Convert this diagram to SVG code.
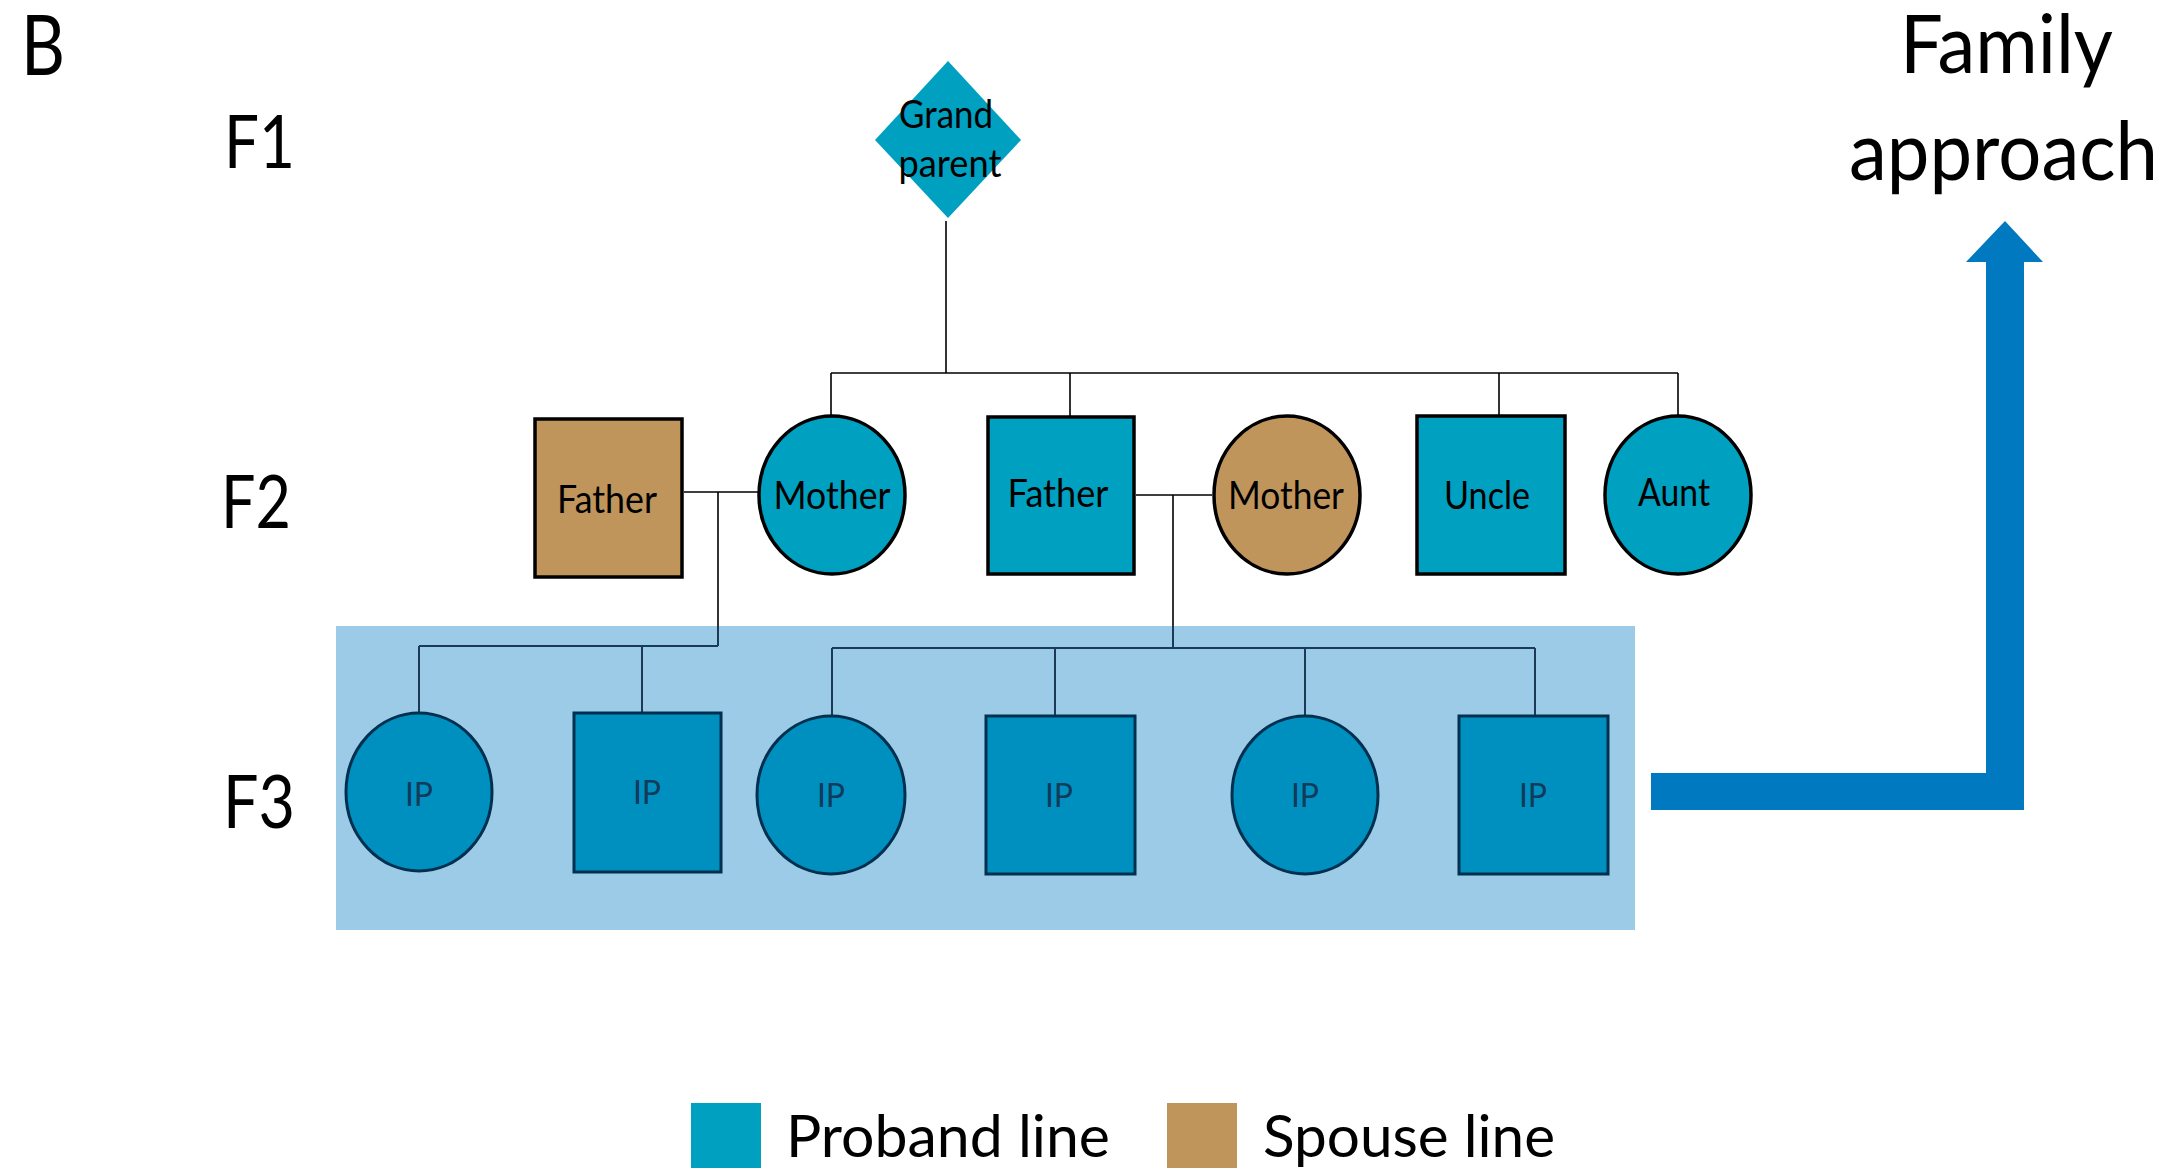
<svg xmlns="http://www.w3.org/2000/svg" width="2181" height="1171" viewBox="0 0 2181 1171">
  <style>
    text { font-family: Lato, "Open Sans", "Liberation Sans", sans-serif; fill: #000; }
    .lbl { font-size: 38px; text-anchor: middle; }
    .gen { font-size: 74px; }
    .ip { font-size: 32px; text-anchor: middle; fill: #123a5a; }
    .proband { fill: #00a0c0; stroke: #000; stroke-width: 3.5; }
    .spouse { fill: #c0955c; stroke: #000; stroke-width: 3.5; }
    .child { fill: #0090bf; stroke: #00304f; stroke-width: 3; }
    .link { stroke: #000; stroke-width: 1.6; fill: none; }
    .link-in { stroke: #1b3a56; stroke-width: 2; fill: none; }
  </style>

  <!-- panel letter and generation labels -->
  <text x="21" y="75" style="font-size:84px" textLength="44" lengthAdjust="spacingAndGlyphs">B</text>
  <text class="gen" x="224" y="168" textLength="71" lengthAdjust="spacingAndGlyphs">F1</text>
  <text class="gen" x="221" y="528" textLength="70" lengthAdjust="spacingAndGlyphs">F2</text>
  <text class="gen" x="223" y="828" textLength="72" lengthAdjust="spacingAndGlyphs">F3</text>

  <!-- index-patient band -->
  <rect id="ip-band" x="336" y="626" width="1299" height="304" fill="#9bcbe7"/>

  <!-- connectors -->
  <g id="connectors">
    <path class="link" d="M946,221 V373 M831,373 H1678 M831,373 V416 M1070,373 V417 M1499,373 V416 M1678,373 V416"/>
    <path class="link" d="M684,492 H758 M718,492 V626 M1136,495 H1212 M1173,495 V626"/>
    <path class="link-in" d="M718,626 V646 M419,646 H718 M419,646 V713 M642,646 V713"/>
    <path class="link-in" d="M1173,626 V648 M832,648 H1535 M832,648 V716 M1055,648 V716 M1305,648 V716 M1535,648 V716"/>
  </g>

  <!-- F1 -->
  <g id="grandparent">
    <polygon points="948,61 1021,140 948,218 875,140" fill="#00a0c0"/>
    <text class="lbl" x="946" y="128" textLength="94" lengthAdjust="spacingAndGlyphs">Grand</text>
    <text class="lbl" x="950" y="177" textLength="103" lengthAdjust="spacingAndGlyphs">parent</text>
  </g>

  <!-- F2 -->
  <g id="father-spouse">
    <rect class="spouse" x="535" y="419" width="147" height="158"/>
    <text class="lbl" x="607" y="513" textLength="100" lengthAdjust="spacingAndGlyphs">Father</text>
  </g>
  <g id="mother-proband">
    <ellipse class="proband" cx="832" cy="495" rx="73" ry="79"/>
    <text class="lbl" x="832" y="509" textLength="117" lengthAdjust="spacingAndGlyphs">Mother</text>
  </g>
  <g id="father-proband">
    <rect class="proband" x="988" y="417" width="146" height="157"/>
    <text class="lbl" x="1058" y="507" textLength="101" lengthAdjust="spacingAndGlyphs">Father</text>
  </g>
  <g id="mother-spouse">
    <ellipse class="spouse" cx="1287" cy="495" rx="73" ry="79"/>
    <text class="lbl" x="1286" y="509" textLength="116" lengthAdjust="spacingAndGlyphs">Mother</text>
  </g>
  <g id="uncle">
    <rect class="proband" x="1417" y="416" width="148" height="158"/>
    <text class="lbl" x="1487" y="509" textLength="86" lengthAdjust="spacingAndGlyphs">Uncle</text>
  </g>
  <g id="aunt">
    <ellipse class="proband" cx="1678" cy="495" rx="73" ry="79"/>
    <text class="lbl" x="1674" y="506" textLength="72" lengthAdjust="spacingAndGlyphs">Aunt</text>
  </g>

  <!-- F3 index patients -->
  <g id="ip-1">
    <ellipse class="child" cx="419" cy="792" rx="73" ry="79"/>
    <text class="ip" x="419" y="806">IP</text>
  </g>
  <g id="ip-2">
    <rect class="child" x="574" y="713" width="147" height="159"/>
    <text class="ip" x="647" y="804">IP</text>
  </g>
  <g id="ip-3">
    <ellipse class="child" cx="831" cy="795" rx="74" ry="79"/>
    <text class="ip" x="831" y="807">IP</text>
  </g>
  <g id="ip-4">
    <rect class="child" x="986" y="716" width="149" height="158"/>
    <text class="ip" x="1059" y="807">IP</text>
  </g>
  <g id="ip-5">
    <ellipse class="child" cx="1305" cy="795" rx="73" ry="79"/>
    <text class="ip" x="1305" y="807">IP</text>
  </g>
  <g id="ip-6">
    <rect class="child" x="1459" y="716" width="149" height="158"/>
    <text class="ip" x="1533" y="807">IP</text>
  </g>

  <!-- family approach arrow -->
  <g id="family-approach">
    <path d="M1651,773 H1986 V262 H1966 L2005,221 L2043,262 H2024 V810 H1651 Z" fill="#0079c1"/>
    <text x="1900" y="73" style="font-size:82px" textLength="213" lengthAdjust="spacingAndGlyphs">Family</text>
    <text x="1849" y="180" style="font-size:82px" textLength="309" lengthAdjust="spacingAndGlyphs">approach</text>
  </g>

  <!-- legend -->
  <g id="legend">
    <rect x="691" y="1103" width="70" height="65" fill="#00a0c0"/>
    <text x="786" y="1157" style="font-size:58px" textLength="324" lengthAdjust="spacingAndGlyphs">Proband line</text>
    <rect x="1167" y="1103" width="70" height="65" fill="#c0955c"/>
    <text x="1263" y="1157" style="font-size:58px" textLength="292" lengthAdjust="spacingAndGlyphs">Spouse line</text>
  </g>
</svg>
